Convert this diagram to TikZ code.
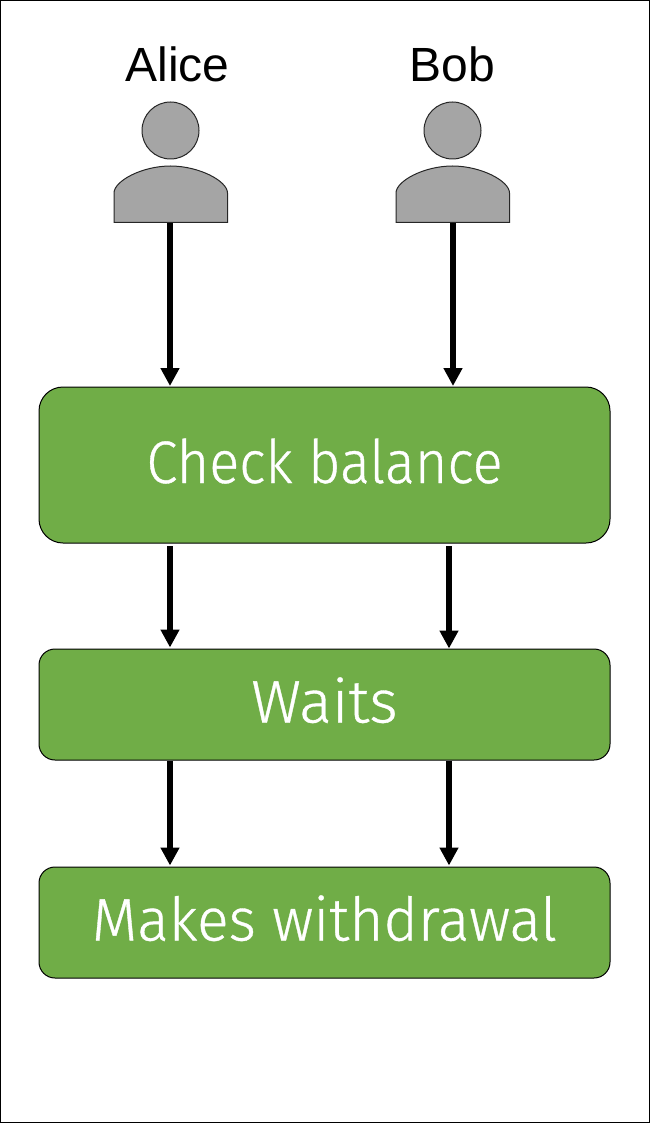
\documentclass[tikz,border=0pt]{standalone}
\usepackage{fontspec}
\setmainfont{Liberation Sans}
\newfontfamily\boxfont[UprightFont=* Light,FakeBold=0.6]{Fira Sans}
\usetikzlibrary{arrows.meta,calc}
\definecolor{boxgreen}{HTML}{70AD47}
\definecolor{persongrey}{HTML}{A5A5A5}
\newcommand{\widthfit}[1]{\addfontfeature{FakeStretch=#1}}
\tikzset{
  stagebox/.style={draw=black,line width=1pt,fill=boxgreen,rounded corners=#1,minimum width=571pt,inner sep=0pt,text=white,text height=36pt,text depth=0pt,font=\boxfont\fontsize{60}{60}\selectfont},
  personname/.style={inner sep=0pt,font=\fontsize{48}{48}\selectfont,text=black},
  personpart/.style={draw=black!85,line width=1pt,fill=persongrey},
  flow/.style={line width=6pt,-{Triangle[length=18pt,width=18pt]},black}
}
\begin{document}
\begin{tikzpicture}[x=1pt,y=-1pt]
\useasboundingbox (0,0) rectangle (650,1123);
\draw[black,line width=1pt] (0.5,0.5) rectangle (649.5,1122.5);
% people
\node[personname,anchor=base] (alice) at (177.5,82) {Alice};
\node[personname,anchor=base] (bob) at (452,82) {Bob};
\node[personpart,circle,minimum size=57pt,inner sep=0pt] (alicehead) at (170.5,130.5) {};
\node[personpart,circle,minimum size=57pt,inner sep=0pt] (bobhead) at (452.5,130.5) {};
\draw[personpart] (114,222.5) -- (114,193) .. controls (114,181) and (142,166) .. (170.5,166) .. controls (199,166) and (227.5,181) .. (227.5,193) -- (227.5,222.5) -- cycle;
\draw[personpart] (396,222.5) -- (396,193) .. controls (396,181) and (424,166) .. (452.5,166) .. controls (481,166) and (509.5,181) .. (509.5,193) -- (509.5,222.5) -- cycle;
\coordinate (alicefoot) at (170,223);
\coordinate (bobfoot) at (453,223);
% boxes
\node[stagebox=24pt,minimum height=156pt] (check) at (324.5,465) {\widthfit{0.93}Check balance};
\node[stagebox=16pt,minimum height=111pt] (waits) at (324.5,704.5) {\widthfit{1.02}Waits};
\node[stagebox=16pt,minimum height=111pt] (makes) at (324.5,922.5) {\widthfit{0.98}Makes withdrawal};
% connectors
\coordinate (a1) at (alicefoot |- check.north);
\coordinate (b1) at (bobfoot |- check.north);
\draw[flow] (alicefoot) -- ($(a1)+(0,-0.5)$);
\draw[flow] (bobfoot) -- ($(b1)+(0,-0.5)$);
\coordinate (la) at ($(check.south west)+(131.5,2.5)$);
\coordinate (lb) at ($(check.south west)+(410.5,2.5)$);
\draw[flow] (la) -- ($(la |- waits.north)+(0,-1)$);
\draw[flow] (lb) -- (lb |- waits.north);
\coordinate (ma) at ($(waits.south west)+(131.5,0)$);
\coordinate (mb) at ($(waits.south west)+(410.5,0)$);
\draw[flow] (ma) -- ($(ma |- makes.north)+(0,-1)$);
\draw[flow] (mb) -- ($(mb |- makes.north)+(0,-1)$);
\end{tikzpicture}
\end{document}
